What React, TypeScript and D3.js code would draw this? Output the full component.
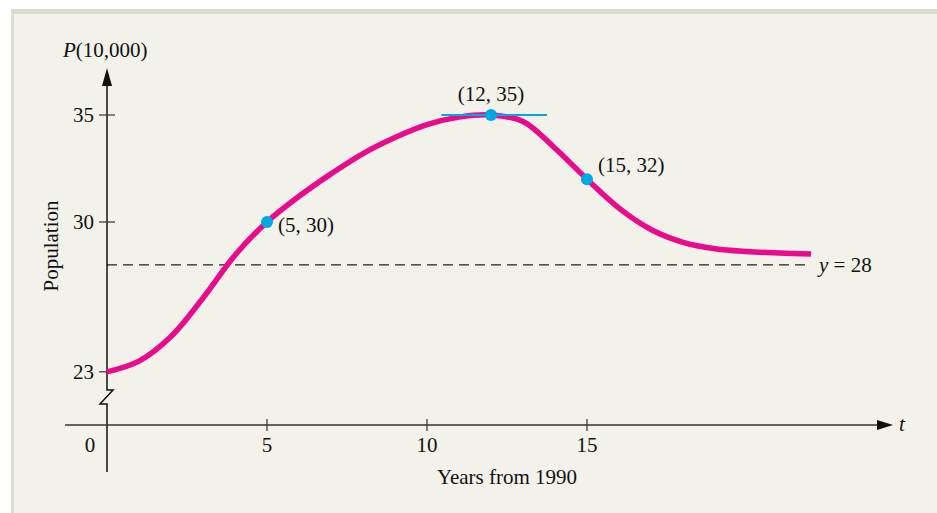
import React from "react";
import * as d3 from "d3";

const years = [0, 1, 2, 3, 4, 5, 6, 7, 8, 9, 10, 11, 12, 13, 14, 15, 16, 17, 18, 19, 20, 21, 22];
const population = [23, 23.5, 24.65, 26.45, 28.45, 30, 31.2, 32.25, 33.2, 33.95, 34.55, 34.9, 35, 34.7, 33.45, 32, 30.65, 29.65, 29.05, 28.75, 28.62, 28.55, 28.5];
const xTicks = [5, 10, 15];
const yTicks = [23, 30, 35];
const keyPoints = [
  { t: 5, p: 30, label: "(5, 30)" },
  { t: 12, p: 35, label: "(12, 35)" },
  { t: 15, p: 32, label: "(15, 32)" },
];
const asymptote = 28;

const W = 937;
const H = 513;
const FONT = "'Liberation Serif', 'DejaVu Serif', serif";
const FS = 21;
const MAGENTA = "#ea0a8c";
const CYAN = "#00a8e6";

export default function App() {
  const x = d3.scaleLinear().domain([0, 15]).range([107, 587]);
  const y = d3.scaleLinear().domain([30, 35]).range([222, 115]);
  const axisY = 425;
  const x0 = x(0);

  const pts: [number, number][] = years.map((t, i) => [t, population[i]]);
  const line = d3
    .line<[number, number]>()
    .x((d) => x(d[0]))
    .y((d) => y(d[1]))
    .curve(d3.curveCatmullRom.alpha(0.5));

  const tEnd = years[years.length - 1];
  const zig = `M${x0},${y(23)} L${x0},390 L${x0 + 6},390 L${x0 - 7},404 L${x0},404 L${x0},472`;

  return (
    <svg
      width={W}
      height={H}
      style={{ position: "absolute", left: 0, top: 0 }}
      fontFamily={FONT}
    >
      <rect x={0} y={0} width={W} height={H} fill="#ffffff" />
      <rect x={11} y={9} width={W - 11} height={H - 9} fill="#dcdbd0" />
      <rect x={14} y={14} width={W - 14} height={H - 14} fill="#f2f1ea" />

      {/* dashed asymptote */}
      <line
        x1={x0}
        x2={x(tEnd)}
        y1={y(asymptote)}
        y2={y(asymptote)}
        stroke="#222"
        strokeWidth={1.2}
        strokeDasharray="10,6"
      />
      <text x={x(tEnd) + 8} y={y(asymptote) + 7} fontSize={FS} fill="#111">
        <tspan fontStyle="italic">y</tspan> = 28
      </text>

      {/* y-axis with break */}
      <line x1={x0} x2={x0} y1={80} y2={y(23)} stroke="#111" strokeWidth={1.5} />
      <path d={zig} fill="none" stroke="#111" strokeWidth={1.5} />
      <path d={`M${x0},68 L${x0 - 5},86 L${x0 + 5},86 Z`} fill="#111" />
      <text x={63} y={57} fontSize={FS} fill="#111">
        <tspan fontStyle="italic">P</tspan>(10,000)
      </text>

      {/* x-axis */}
      <line x1={65} x2={882} y1={axisY} y2={axisY} stroke="#333" strokeWidth={1.5} />
      <path d={`M893,${axisY} L877,${axisY - 5} L877,${axisY + 5} Z`} fill="#111" />
      <text x={899} y={431} fontSize={FS} fontStyle="italic" fill="#111">t</text>

      {/* y ticks */}
      {yTicks.map((v) => (
        <g key={v}>
          <line x1={x0 - 8} x2={x0 + 8} y1={y(v)} y2={y(v)} stroke="#333" strokeWidth={1.2} />
          <text x={94} y={y(v) + 7} fontSize={FS} textAnchor="end" fill="#111">
            {v}
          </text>
        </g>
      ))}
      {/* x ticks */}
      {xTicks.map((v) => (
        <g key={v}>
          <line x1={x(v)} x2={x(v)} y1={axisY - 6} y2={axisY + 6} stroke="#333" strokeWidth={1.2} />
          <text x={x(v)} y={452} fontSize={FS} textAnchor="middle" fill="#111">
            {v}
          </text>
        </g>
      ))}
      <text x={90} y={452} fontSize={FS} textAnchor="middle" fill="#111">0</text>

      <text x={507} y={484} fontSize={FS} textAnchor="middle" fill="#111">Years from 1990</text>
      <text
        transform={`translate(58,246) rotate(-90)`}
        fontSize={FS}
        textAnchor="middle"
        fill="#111"
      >
        Population
      </text>

      {/* curve */}
      <path d={line(pts) || ""} fill="none" stroke={MAGENTA} strokeWidth={5.5} strokeLinecap="butt" />

      {/* tangent at max */}
      <line x1={x(10.45)} x2={x(13.75)} y1={y(35)} y2={y(35)} stroke={CYAN} strokeWidth={2.2} />

      {keyPoints.map((k) => (
        <circle key={k.label} cx={x(k.t)} cy={y(k.p)} r={6} fill={CYAN} />
      ))}
      <text x={x(5) + 11} y={y(30) + 10} fontSize={FS} fill="#111">{keyPoints[0].label}</text>
      <text x={x(12)} y={y(35) - 14} fontSize={FS} textAnchor="middle" fill="#111">{keyPoints[1].label}</text>
      <text x={x(15) + 11} y={y(32) - 7} fontSize={FS} fill="#111">{keyPoints[2].label}</text>
    </svg>
  );
}
